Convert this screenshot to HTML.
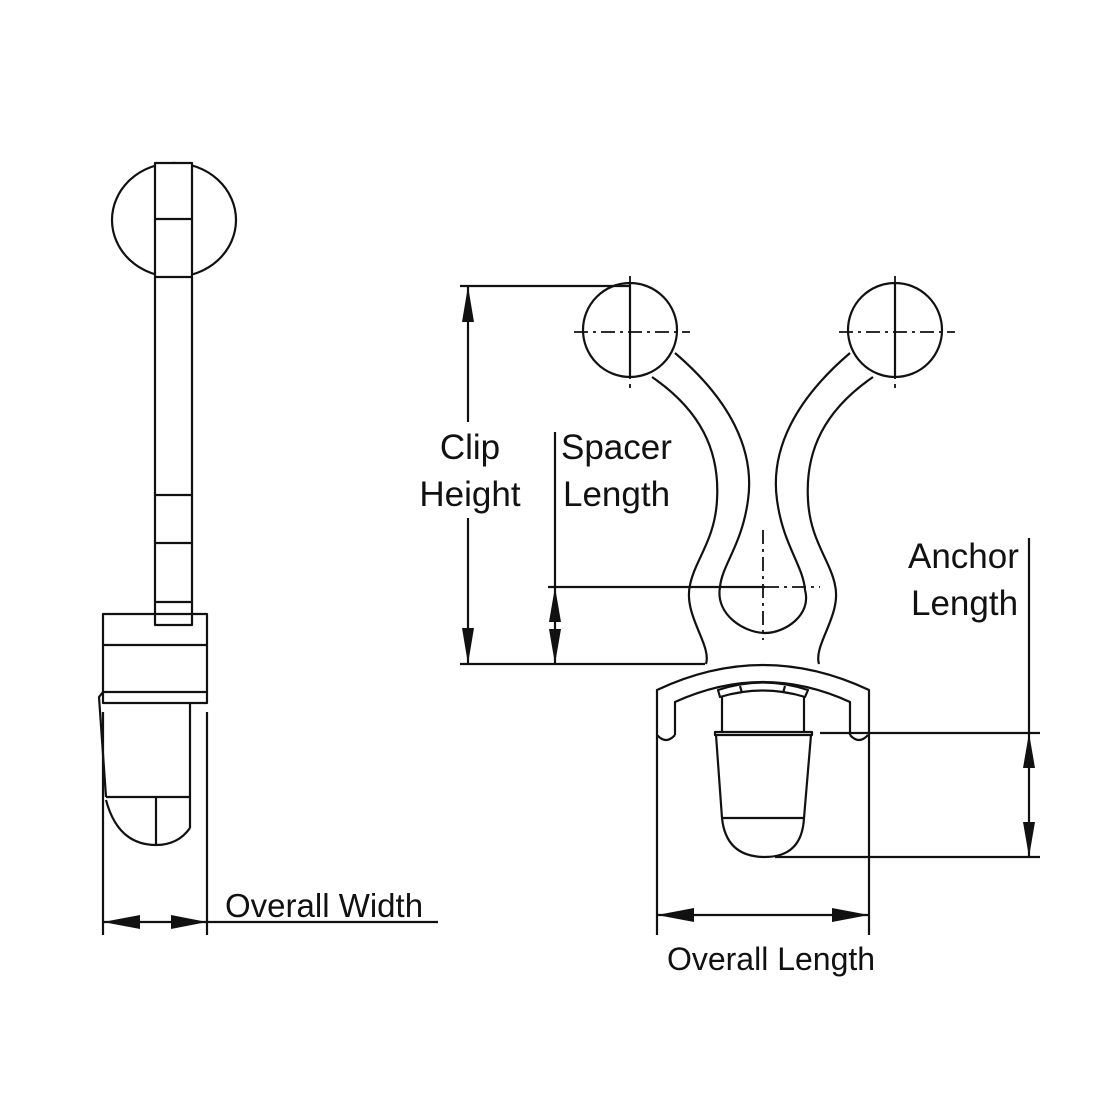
<!DOCTYPE html>
<html><head><meta charset="utf-8"><style>
html,body{margin:0;padding:0;background:#fff;}
svg{display:block;}
text{font-family:"Liberation Sans",Arial,sans-serif;fill:#111;}
</style></head><body>
<svg width="1100" height="1100" viewBox="0 0 1100 1100" xmlns="http://www.w3.org/2000/svg">
<rect width="1100" height="1100" fill="#fff"/>
<g fill="none" stroke="#111" stroke-width="2.2" stroke-linejoin="round">
<!-- LEFT VIEW -->
<ellipse cx="174" cy="220" rx="62" ry="57"/>
<rect x="155" y="163" width="37" height="462" fill="#fff"/>
<line x1="155" y1="219" x2="192" y2="219"/>
<line x1="155" y1="277" x2="192" y2="277"/>
<line x1="155" y1="495" x2="192" y2="495"/>
<line x1="155" y1="543" x2="192" y2="543"/>
<line x1="155" y1="602" x2="192" y2="602"/>
<rect x="103" y="614" width="104" height="89"/>
<line x1="103" y1="645" x2="207" y2="645"/>
<line x1="103" y1="692" x2="207" y2="692"/>
<path d="M103,692 L99,697 L106,797"/>
<line x1="190" y1="703" x2="190" y2="828"/>
<line x1="106" y1="797" x2="190" y2="797"/>
<line x1="156" y1="797" x2="156" y2="845"/>
<path d="M106,800 Q118,845 156,845 Q178,845 190,828"/>
<line x1="103" y1="712" x2="103" y2="935"/>
<line x1="207" y1="712" x2="207" y2="935"/>
<line x1="103" y1="922" x2="438" y2="922"/>

<!-- RIGHT VIEW circles -->
<circle cx="630" cy="330" r="47"/>
<circle cx="895" cy="330" r="47"/>
<line x1="630" y1="283" x2="630" y2="377"/>
<line x1="895" y1="283" x2="895" y2="377"/>
<path d="M675,353 C730,400 755,450 748,500 C742,545 722,565 720,587 C715,615 745,633 765,633 C785,633 812,615 805,590 C803,565 783,545 777,500 C770,450 795,400 850,353"/>
<path d="M652,377 C700,410 720,450 717,500 C715,540 695,560 690,585 C683,615 712,645 706,664"/>
<path d="M873,377 C825,410 805,450 808,500 C810,540 830,560 835,585 C842,615 813,645 819,664"/>
<!-- base -->
<path d="M657,935 L657,690 Q763,640 869,690 L869,935"/>
<path d="M675,735 L675,702 Q763,662 850,702 L850,735"/>
<path d="M657,735 Q666,745 675,735"/>
<path d="M850,735 Q859,745 868,735"/>
<path d="M718,690 Q763,675 808,690 L805,697 Q763,684 720,697 Z"/>
<line x1="740" y1="686" x2="742" y2="693"/>
<line x1="785" y1="686" x2="783" y2="693"/>
<line x1="722" y1="697" x2="722" y2="733"/>
<line x1="804" y1="697" x2="804" y2="733"/>
<rect x="715" y="732" width="97" height="3"/>
<path d="M716,735 L722,818 L804,818 L811,735"/>
<path d="M722,818 Q726,857 765,857 Q802,857 804,818"/>
<!-- dimensions right -->
<line x1="460" y1="286" x2="630" y2="286"/>
<line x1="460" y1="664" x2="705" y2="664"/>
<line x1="468" y1="286" x2="468" y2="664"/>
<line x1="555" y1="432" x2="555" y2="664"/>
<line x1="548" y1="587" x2="765" y2="587"/>
<line x1="820" y1="733" x2="1040" y2="733"/>
<line x1="775" y1="857" x2="1040" y2="857"/>
<line x1="1029" y1="538" x2="1029" y2="857"/>
<line x1="657" y1="915" x2="869" y2="915"/>
</g>
<g stroke="#111" stroke-width="1.8" stroke-dasharray="14,5,3,5" fill="none">
<line x1="574" y1="332" x2="690" y2="332"/>
<line x1="839" y1="332" x2="955" y2="332"/>
<line x1="630" y1="276" x2="630" y2="388"/>
<line x1="895" y1="276" x2="895" y2="388"/>
<line x1="763" y1="530" x2="763" y2="640"/>
<line x1="765" y1="587" x2="820" y2="587"/>
</g>
<g fill="#111">
<polygon points="103,922 140,915 140,929"/>
<polygon points="207,922 171,915 171,929"/>
<polygon points="468,286 462,322 474,322"/>
<polygon points="468,664 462,628 474,628"/>
<polygon points="555,587 549,622 561,622"/>
<polygon points="555,664 549,629 561,629"/>
<polygon points="1029,733 1023,768 1035,768"/>
<polygon points="1029,857 1023,822 1035,822"/>
<polygon points="657,915 694,908 694,922"/>
<polygon points="869,915 832,908 832,922"/>
</g>
<rect x="418" y="422" width="106" height="96" fill="#fff"/>
<text x="225" y="917" font-size="33">Overall Width</text>
<text x="470" y="459" font-size="35" text-anchor="middle">Clip</text>
<text x="470" y="506" font-size="35" text-anchor="middle">Height</text>
<text x="561" y="459" font-size="35">Spacer</text>
<text x="563" y="506" font-size="35">Length</text>
<text x="908" y="568" font-size="35">Anchor</text>
<text x="911" y="615" font-size="35">Length</text>
<text x="771" y="970" font-size="32" text-anchor="middle">Overall Length</text>
</svg>
</body></html>
